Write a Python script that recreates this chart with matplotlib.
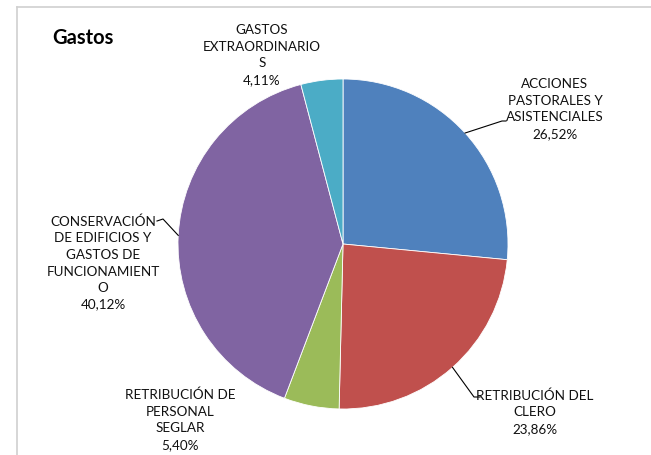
import numpy as np
import matplotlib
matplotlib.use("Agg")
import matplotlib.pyplot as plt
from matplotlib.lines import Line2D

plt.rcParams['font.family'] = ['Lato', 'DejaVu Sans']

title = "Gastos"
categories = ["ACCIONES\nPASTORALES Y\nASISTENCIALES",
              "RETRIBUCIÓN DEL\nCLERO",
              "RETRIBUCIÓN DE\nPERSONAL\nSEGLAR",
              "CONSERVACIÓN\nDE EDIFICIOS Y\nGASTOS DE\nFUNCIONAMIENT\nO",
              "GASTOS\nEXTRAORDINARIO\nS"]
values = [26.52, 23.86, 5.40, 40.12, 4.11]
pct_labels = ["26,52%", "23,86%", "5,40%", "40,12%", "4,11%"]
colors = ["#4F81BD", "#C0504D", "#9BBB59", "#8064A2", "#4BACC6"]

W, H = 651, 456
fig = plt.figure(figsize=(W / 100, H / 100), dpi=100)
fig.patch.set_facecolor("white")
ax = fig.add_axes([0, 0, 1, 1])

cx, cy, R = 343, H - 245, 165
wedges, _ = ax.pie(values, colors=colors, startangle=90, counterclock=False,
                   center=(cx, cy), radius=R,
                   wedgeprops=dict(edgecolor="white", linewidth=0.6))
ax.set_xlim(0, W)
ax.set_ylim(0, H)
ax.set_aspect("equal")
ax.axis("off")

# frame (top and left borders)
fx, fy = 16.5 / W, (H - 7.5) / H
fig.add_artist(Line2D([fx, 1.0], [fy, fy], transform=fig.transFigure,
                      color="#D0D0D0", lw=1.2))
fig.add_artist(Line2D([fx, fx], [0.0, fy], transform=fig.transFigure,
                      color="#D0D0D0", lw=1.2))

ax.text(52, H - 38, title, fontsize=14.5, fontweight="bold", ha="left", va="center")

# label centers (pixel coordinates, y from top) and leader elbows
label_pos = [(555, 109), (535, 412), (180, 420), (103, 263), (262, 55)]
elbows = [((502, 122), (506, 122)),
          ((474, 398), (480, 398)),
          None,
          ((163, 220), (157, 222)),
          None]

for i, w in enumerate(wedges):
    lx, ly = label_pos[i]
    ax.text(lx, H - ly, categories[i] + "\n" + pct_labels[i], fontsize=9.7,
            ha="center", va="center", linespacing=1.45, color="#111111")
    if elbows[i] is not None:
        ang = np.deg2rad((w.theta1 + w.theta2) / 2)
        sx, sy = cx + R * np.cos(ang), cy + R * np.sin(ang)
        (ex, ey), (hx, hy) = elbows[i]
        ax.plot([sx, ex, hx], [sy, H - ey, H - hy], color="black", lw=0.8)

fig.savefig("out.png", dpi=100)
